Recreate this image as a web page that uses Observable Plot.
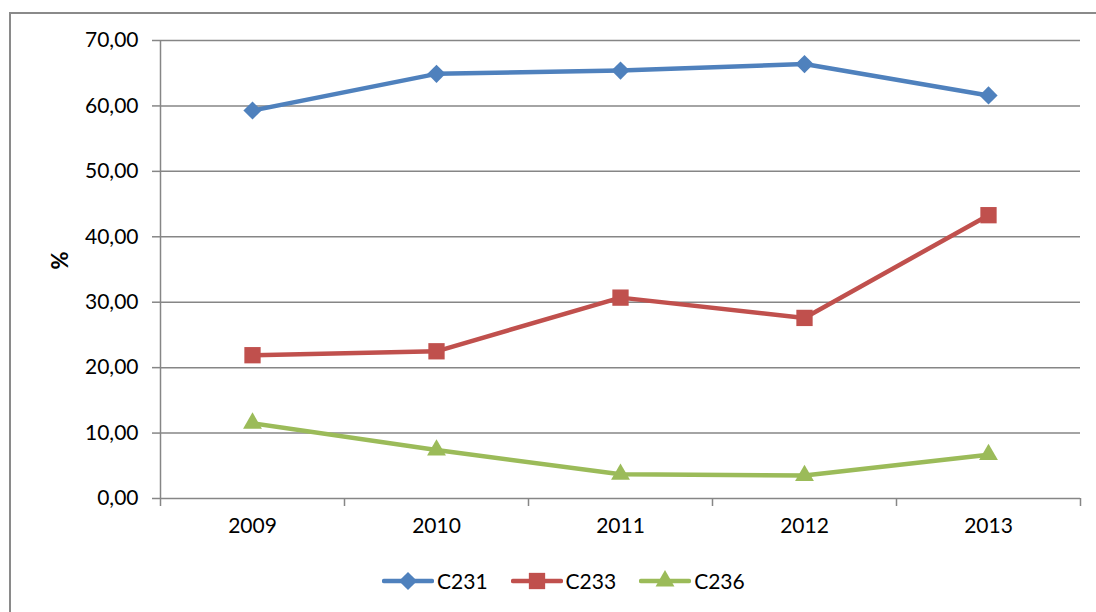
<!DOCTYPE html>
<html>
<head>
<meta charset="utf-8">
<script src="https://cdn.jsdelivr.net/npm/d3@7"></script>
<script src="https://cdn.jsdelivr.net/npm/@observablehq/plot@0.6"></script>
<style>
  html, body { margin: 0; padding: 0; background: #fff; overflow: hidden; }
  body { width: 1096px; height: 612px; position: relative; font-family: Lato, "Open Sans", sans-serif; }
  #border { position: absolute; left: 9px; top: 12px; width: 1200px; height: 700px; border: 2px solid #8a8a8a; box-sizing: border-box; }
  #chart { position: absolute; left: 0; top: 0; }
  #legend { position: absolute; left: 382px; top: 568px; display: flex; align-items: center; font-size: 21px; color: #000; }
  #legend .item { display: flex; align-items: center; margin-right: 23px; }
  #legend svg { display: block; }
  #legend span { margin-left: 3px; }
</style>
</head>
<body>
<div id="border"></div>
<div id="chart"></div>
<div id="legend"></div>
<script>
const years = [2009, 2010, 2011, 2012, 2013];
const seriesNames = ["C231", "C233", "C236"];
const c231 = [59.3, 64.9, 65.4, 66.4, 61.6];
const c233 = [21.9, 22.5, 30.7, 27.6, 43.3];
const c236 = [11.5, 7.4, 3.7, 3.5, 6.7];
const yTicks = [0, 10, 20, 30, 40, 50, 60, 70];
const colors = ["#4F81BD", "#C0504D", "#9BBB59"];
const symbols = ["diamond2", "square", "triangle"];
const symbolR = [8.2, 9.2, 7];

const seriesValues = [c231, c233, c236];
const data = seriesNames.flatMap((name, i) =>
  years.map((yr, j) => ({series: name, year: yr, value: seriesValues[i][j]}))
);
const boundaries = [years[0] - 0.5, ...years.map(y => y + 0.5)];
const fmt = v => v.toFixed(2).replace(".", ",");
const grid = "#868686";

const chart = Plot.plot({
  width: 1096,
  height: 545,
  marginTop: 40,
  marginBottom: 47,
  marginLeft: 160,
  marginRight: 16,
  style: {fontFamily: "Lato, 'Open Sans', sans-serif", fontSize: "21px", color: "#000", background: "transparent"},
  x: {domain: [years[0] - 0.5, years[years.length - 1] + 0.5]},
  y: {domain: [0, 70]},
  color: {domain: seriesNames, range: colors},
  symbol: {domain: seriesNames, range: symbols},
  marks: [
    Plot.ruleY(yTicks, {stroke: grid, strokeWidth: 1.5, strokeOpacity: 1}),
    Plot.ruleX([boundaries[0]], {y1: 0, y2: 70, stroke: grid, strokeWidth: 1.5}),
    Plot.axisY({ticks: yTicks, tickFormat: fmt, tickSize: 8, tickPadding: 14, stroke: grid, strokeWidth: 1.5, label: null, color: "#000"}),
    Plot.axisX({ticks: boundaries, tickFormat: () => "", tickSize: 8, stroke: grid, strokeWidth: 1.5, label: null}),
    Plot.axisX({ticks: years, tickFormat: d => String(d), tickSize: 0, tickPadding: 20, label: null, color: "#000"}),
    Plot.text(["%"], {frameAnchor: "left", dx: -100, rotate: -90, fontWeight: "bold", fontSize: 22, fill: "#000"}),
    Plot.line(data, {x: "year", y: "value", z: "series", stroke: "series", strokeWidth: 4.5, strokeLinejoin: "round"}),
    ...seriesNames.map((name, i) =>
      Plot.dot(data.filter(d => d.series === name), {x: "year", y: "value", symbol: "series", fill: "series", stroke: "none", r: symbolR[i]})
    )
  ]
});
document.getElementById("chart").appendChild(chart);

// legend
const legend = d3.select("#legend");
seriesNames.forEach((name, i) => {
  const item = legend.append("div").attr("class", "item");
  const svg = item.append("svg").attr("width", 52).attr("height", 24);
  svg.append("line").attr("x1", 2).attr("x2", 50).attr("y1", 12).attr("y2", 12)
    .attr("stroke", colors[i]).attr("stroke-width", 4.5).attr("stroke-linecap", "round");
  const sym = {diamond2: d3.symbolDiamond2, square: d3.symbolSquare, triangle: d3.symbolTriangle}[symbols[i]];
  svg.append("path").attr("transform", "translate(26,12)")
    .attr("d", d3.symbol(sym, Math.PI * symbolR[i] * symbolR[i])())
    .attr("fill", colors[i]);
  item.append("span").text(name);
});
</script>
</body>
</html>
